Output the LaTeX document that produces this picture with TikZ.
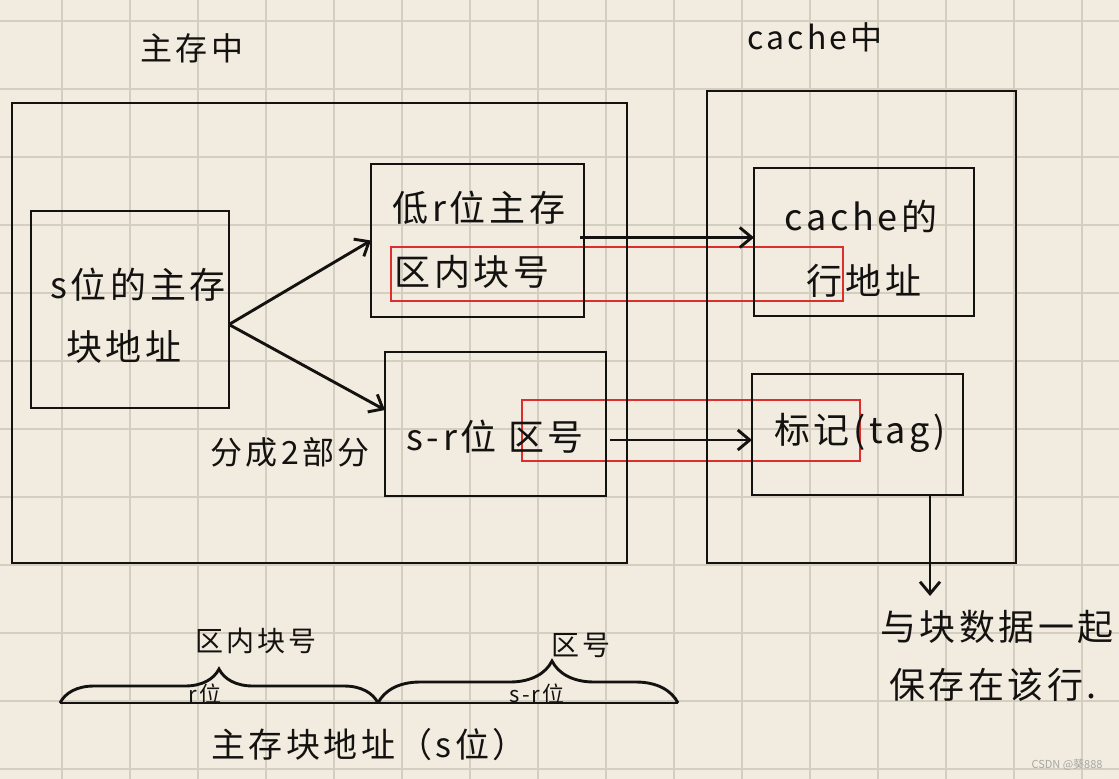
\documentclass[tikz,border=0pt]{standalone}
\usepackage{fontspec}
\usepackage{tikz}
\usetikzlibrary{arrows.meta,decorations.pathreplacing}
\newfontfamily\cjk[LetterSpace=10]{Noto Sans CJK SC}
\newfontfamily\wmfont{Noto Sans CJK SC}
\definecolor{paper}{RGB}{242,236,224}
\definecolor{gridline}{RGB}{212,206,192}
\definecolor{pen}{RGB}{20,18,16}
\definecolor{marker}{RGB}{222,45,45}

\begin{document}
\begin{tikzpicture}[x=1pt,y=-1pt,line width=2.9pt,
  box/.style={draw=pen, inner sep=0pt, outer sep=0pt},
  hl/.style={draw=marker, line width=2.8pt},
  lbl/.style={font=\cjk\fontsize{36}{40}\selectfont, text=pen, inner sep=0pt},
  >={Straight Barb[length=12pt,width=20pt]}]
  \fill[paper] (0,0) rectangle (1119,779);
  \useasboundingbox (0,0) rectangle (1119,779);
  % squared paper
  \foreach \gx in {62,130,...,1082} \draw[gridline,line width=2pt] (\gx,0) -- (\gx,779);
  \foreach \gy in {21,89,...,769} \draw[gridline,line width=2pt] (0,\gy) -- (1119,\gy);
  % red marks
  \draw[hl] (391,247) rectangle (843,301);
  \draw[hl] (522,400) rectangle (860,461);
  % boxes
  \node[box, minimum width=615pt, minimum height=460pt] (mem) at (319.5,333) {};
  \node[box, minimum width=309pt, minimum height=472pt] (cachebox) at (861.5,327) {};
  \node[box, minimum width=198pt, minimum height=197pt] (addr) at (130,309.5) {};
  \node[box, minimum width=213pt, minimum height=153pt] (low) at (477.5,240.5) {};
  \node[box, minimum width=221pt, minimum height=144pt] (sr) at (495.5,424) {};
  \node[box, minimum width=220pt, minimum height=148pt] (line) at (864,242) {};
  \node[box, minimum width=211pt, minimum height=121pt] (tag) at (857.5,434.5) {};
  \coordinate (keepend) at (930,596);
  % arrows
  \draw[pen,->] ([yshift=-15pt]addr.east) -- (low.west);
  \draw[pen,->] ([yshift=-15pt]addr.east) -- ([yshift=14pt]sr.west);
  \draw[pen,->] ([xshift=-4pt,yshift=3pt]low.east) -- ([yshift=3pt]low.east -| line.west);
  \draw[pen,->] ([xshift=4pt,yshift=-16pt]sr.east) -- ([yshift=-16pt]sr.east -| tag.west);
  \draw[pen,->] (tag.south -| keepend) -- (keepend);
  % texts
  \node[lbl,font=\cjk\fontsize{32}{36}\selectfont] (memtitle) at (192,48) {主存中};
  \node[lbl,font=\cjk\fontsize{32}{36}\selectfont] (cachetitle) at (815,37) {cache中};
  \node[lbl] (addrtop) at (138,285) {s位的主存};
  \node[lbl] (addrbot) at (124,347) {块地址};
  \node[lbl] (lowtop) at (479,208) {低r位主存};
  \node[lbl] (lowbot) at (472,272) {区内块号};
  \node[lbl] (srtxt) at (495,437) {s-r位 区号};
  \node[lbl,font=\cjk\fontsize{32}{36}\selectfont] (split) at (290,452) {分成2部分};
  \node[lbl] (linetop) at (861,216) {cache的};
  \node[lbl] (linebot) at (864,281) {行地址};
  \node[lbl] (tagtxt) at (860,433) {标记(tag)};
  \node[lbl] (keeptop) at (997,627) {与块数据一起};
  \node[lbl] (keepbot) at (993,685) {保存在该行.};
  % address bar with braces
  \draw[pen] (60,703) -- (678,703);
  \draw[pen,decorate,decoration={brace,amplitude=34pt,aspect=0.5}] (60,703) -- (378,703);
  \draw[pen,decorate,decoration={brace,amplitude=42pt,aspect=0.58}] (378,703) -- (678,703);
  \node[lbl,font=\cjk\fontsize{28}{32}\selectfont] (blocknum) at (256,641) {区内块号};
  \node[lbl,font=\cjk\fontsize{28}{32}\selectfont] (zonenum) at (581,645) {区号};
  \node[lbl,font=\cjk\fontsize{22}{26}\selectfont] (rbits) at (205,694) {r位};
  \node[lbl,font=\cjk\fontsize{22}{26}\selectfont] (srbits) at (537,694) {s-r位};
  \node[lbl,font=\cjk\fontsize{34}{38}\selectfont] (barcap) at (369,745) {主存块地址（s位）};
  \node[font=\wmfont\fontsize{11}{13}\selectfont, text=black!35, inner sep=0pt] (wm) at (1067,765) {CSDN @葵888};
\end{tikzpicture}
\end{document}
